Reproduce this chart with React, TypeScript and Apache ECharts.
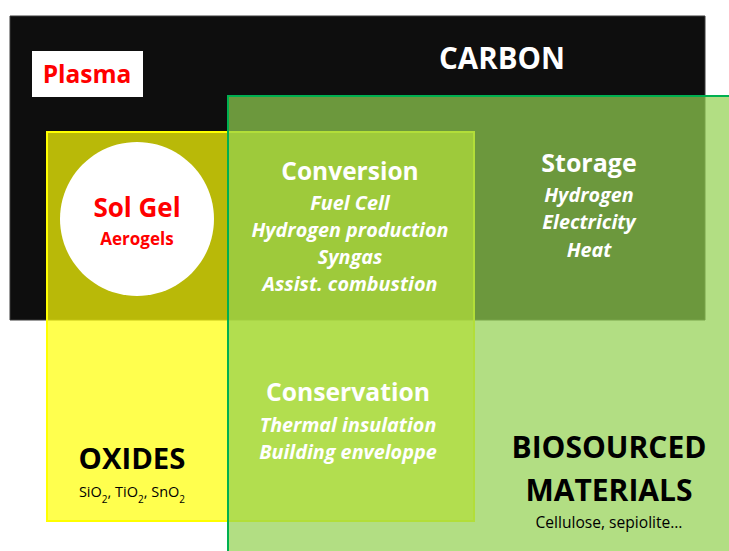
import React, { useEffect, useRef } from "react";
import * as echarts from "echarts";

const mainTitles = ["CARBON", "OXIDES", "BIOSOURCED", "MATERIALS"];
const techniques = ["Plasma", "Sol Gel", "Aerogels"];
const conversionItems = ["Fuel Cell", "Hydrogen production", "Syngas", "Assist. combustion"];
const storageItems = ["Hydrogen", "Electricity", "Heat"];
const conservationItems = ["Thermal insulation", "Building enveloppe"];
const oxideFormulas = ["SiO", "TiO", "SnO"];
const bioExamples = "Cellulose, sepiolite…";

const FONT = "'Open Sans', sans-serif";

function txt(text: string, x: number, y: number, size: number, color: string, opts: any = {}) {
  return {
    type: "text",
    z: 10,
    style: {
      text,
      x,
      y,
      fill: color,
      fontFamily: FONT,
      fontSize: size,
      fontWeight: opts.weight || "bold",
      fontStyle: opts.italic ? "italic" : "normal",
      align: "center",
      verticalAlign: "middle",
      ...(opts.rich ? { rich: opts.rich } : {}),
    },
  };
}

export default function App() {
  const ref = useRef<HTMLDivElement>(null);
  useEffect(() => {
    document.body.style.margin = "0";
    const chart = echarts.init(ref.current!, null, { renderer: "svg" });
    const g: any[] = [];
    // shapes
    g.push({ type: "rect", z: 1, shape: { x: 10, y: 16, width: 695, height: 304 }, style: { fill: "#0e0e0e", stroke: "#3a3a3a", lineWidth: 1 } });
    g.push({ type: "rect", z: 2, shape: { x: 32, y: 51, width: 111, height: 46 }, style: { fill: "#ffffff" } });
    g.push({ type: "rect", z: 3, shape: { x: 47, y: 132, width: 427, height: 389 }, style: { fill: "rgba(255,255,5,0.71)", stroke: "#ffff00", lineWidth: 2 } });
    g.push({ type: "circle", z: 4, shape: { cx: 137, cy: 219, r: 77 }, style: { fill: "#ffffff" } });
    g.push({ type: "rect", z: 5, shape: { x: 228, y: 96, width: 520, height: 480 }, style: { fill: "rgba(146,208,80,0.71)", stroke: "#00b050", lineWidth: 2 } });

    // texts
    g.push(txt(techniques[0], 87, 73, 24.5, "#ff0000"));
    g.push(txt(mainTitles[0], 502, 57, 29.5, "#ffffff"));
    g.push(txt(techniques[1], 137, 207, 26, "#ff0000"));
    g.push(txt(techniques[2], 137, 238, 17, "#ff0000"));

    g.push(txt("Conversion", 350, 170, 24.5, "#ffffff"));
    conversionItems.forEach((t, i) => g.push(txt(t, 350, 202 + i * 27.3, 19.8, "#ffffff", { italic: true })));

    g.push(txt("Storage", 589, 162, 25, "#ffffff"));
    storageItems.forEach((t, i) => g.push(txt(t, 589, 194 + i * 27.5, 19.8, "#ffffff", { italic: true })));

    g.push(txt("Conservation", 348, 391, 24.7, "#ffffff"));
    conservationItems.forEach((t, i) => g.push(txt(t, 348, 424 + i * 27, 19.8, "#ffffff", { italic: true })));

    g.push(txt(mainTitles[1], 132, 458, 29.3, "#000000"));
    const formula = oxideFormulas.map((f) => "{b|" + f + "}{sub|2}").join("{b|, }");
    g.push(txt(formula, 132, 494, 14.5, "#000000", {
      weight: "normal",
      rich: {
        b: { fontSize: 14.5, fontFamily: FONT, fill: "#000000", verticalAlign: "top", lineHeight: 18 },
        sub: { fontSize: 10, fontFamily: FONT, fill: "#000000", verticalAlign: "bottom", lineHeight: 19.5 },
      },
    }));

    g.push(txt(mainTitles[2], 609, 446, 30, "#000000"));
    g.push(txt(mainTitles[3], 609, 489, 30, "#000000"));
    g.push(txt(bioExamples, 609, 522, 15.6, "#000000", { weight: "normal" }));

    chart.setOption({ animation: false, graphic: { elements: g } });
    return () => chart.dispose();
  }, []);
  return <div ref={ref} style={{ width: 729, height: 551, background: "#ffffff" }} />;
}
